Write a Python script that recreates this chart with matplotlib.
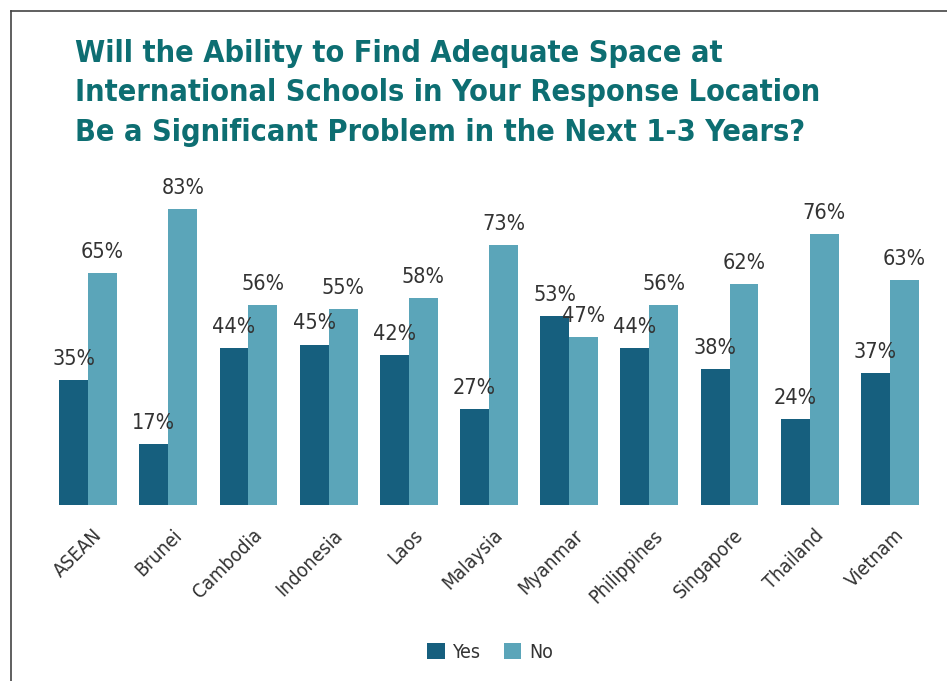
import matplotlib
matplotlib.use("Agg")
import matplotlib.pyplot as plt
from matplotlib.lines import Line2D
import numpy as np

categories = ["ASEAN", "Brunei", "Cambodia", "Indonesia", "Laos", "Malaysia",
              "Myanmar", "Philippines", "Singapore", "Thailand", "Vietnam"]
yes_vals = [35, 17, 44, 45, 42, 27, 53, 44, 38, 24, 37]
no_vals = [65, 83, 56, 55, 58, 73, 47, 56, 62, 76, 63]
series_names = ["Yes", "No"]
title = ("Will the Ability to Find Adequate Space at\n"
         "International Schools in Your Response Location\n"
         "Be a Significant Problem in the Next 1-3 Years?")

plt.rcParams['font.family'] = ["DejaVu Sans"]
plt.rcParams['font.stretch'] = "condensed"

c_yes = "#165f7e"
c_no = "#5ba5b9"
txt = "#333333"

fig = plt.figure(figsize=(9.47, 6.81), dpi=100)
ax = fig.add_axes([48/947, 1-505/681, (930-48)/947, 321/681])

x = np.arange(len(categories))
w = 0.36
b1 = ax.bar(x - w/2, yes_vals, w, color=c_yes, label=series_names[0])
b2 = ax.bar(x + w/2, no_vals, w, color=c_no, label=series_names[1])

for bars, vals in ((b1, yes_vals), (b2, no_vals)):
    for r, v in zip(bars, vals):
        ax.annotate(f"{v}%", (r.get_x() + r.get_width()/2, v),
                    xytext=(0, 8), textcoords="offset points",
                    ha="center", va="bottom", fontsize=15.5, color=txt)

ax.set_xlim(-0.5, len(categories) - 0.5)
ax.set_ylim(0, 90)
ax.set_yticks([])
ax.set_xticks(x + 0.05)
ax.set_xticklabels(categories, rotation=45, ha="right", va="top",
                   rotation_mode="anchor", fontsize=14, color=txt)
ax.tick_params(axis="x", length=0, pad=15)
for s in ax.spines.values():
    s.set_visible(False)

fig.text(75/947, 1-39/681, title, ha="left", va="top", fontsize=22,
         fontweight="bold", color="#0d6e72", linespacing=1.45)

leg = fig.legend(handles=[b1, b2], labels=series_names, loc="center",
                 bbox_to_anchor=(490/947, 1-652/681), ncol=2, frameon=False,
                 fontsize=14, handlelength=0.9, handleheight=0.9,
                 handletextpad=0.4, columnspacing=1.2)
for t in leg.get_texts():
    t.set_color(txt)

fig.add_artist(Line2D([11/947, 1], [1-11/681, 1-11/681], color="#444444", lw=1.2))
fig.add_artist(Line2D([11/947, 11/947], [0, 1-11/681], color="#444444", lw=1.2))

fig.savefig("out.png", dpi=100)
